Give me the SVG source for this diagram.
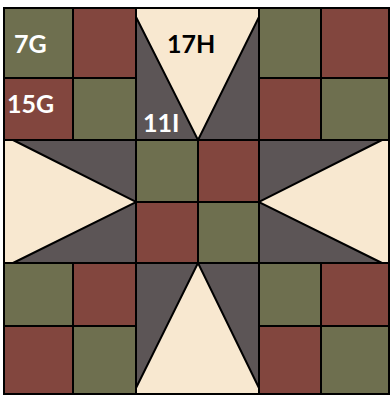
<svg xmlns="http://www.w3.org/2000/svg" width="390" height="396" viewBox="0 0 390 396">
<style>
.g{fill:#6e6f4f}
.r{fill:#82463e}
.c{fill:#f8e8d0}
.k{fill:#5c5556}
.s{stroke:#000;stroke-width:2;stroke-linejoin:miter}
.lw{font-family:Lato,"DejaVu Sans",sans-serif;font-weight:bold;font-size:25px;fill:#fff}
.lb{font-family:Lato,"DejaVu Sans",sans-serif;font-weight:bold;font-size:25px;fill:#000}
</style>
<rect x="0" y="0" width="390" height="396" fill="#fff"/>
<g id="corner-tl">
<rect class="g s" x="4" y="8" width="69" height="70"/>
<rect class="r s" x="73" y="8" width="63" height="70"/>
<rect class="r s" x="4" y="78" width="69" height="62"/>
<rect class="g s" x="73" y="78" width="63" height="62"/>
</g>
<g id="corner-tr">
<rect class="g s" x="259" y="8" width="62" height="70"/>
<rect class="r s" x="321" y="8" width="68" height="70"/>
<rect class="r s" x="259" y="78" width="62" height="62"/>
<rect class="g s" x="321" y="78" width="68" height="62"/>
</g>
<g id="corner-bl">
<rect class="g s" x="4" y="263" width="69" height="63"/>
<rect class="r s" x="73" y="263" width="63" height="63"/>
<rect class="r s" x="4" y="326" width="69" height="68"/>
<rect class="g s" x="73" y="326" width="63" height="68"/>
</g>
<g id="corner-br">
<rect class="g s" x="259" y="263" width="62" height="63"/>
<rect class="r s" x="321" y="263" width="68" height="63"/>
<rect class="r s" x="259" y="326" width="62" height="68"/>
<rect class="g s" x="321" y="326" width="68" height="68"/>
</g>
<g id="center">
<rect class="g s" x="136" y="140" width="62" height="62"/>
<rect class="r s" x="198" y="140" width="61" height="62"/>
<rect class="r s" x="136" y="202" width="62" height="61"/>
<rect class="g s" x="198" y="202" width="61" height="61"/>
</g>
<g id="star-top">
<rect class="c s" x="136" y="8" width="123" height="132"/>
<polygon class="k s" points="136,17 136,140 198,140"/>
<polygon class="k s" points="259,17 259,140 198,140"/>
</g>
<g id="star-left">
<rect class="c s" x="4" y="140" width="132" height="123"/>
<polygon class="k s" points="13,140 136,140 136,202"/>
<polygon class="k s" points="13,263 136,263 136,202"/>
</g>
<g id="star-right">
<rect class="c s" x="259" y="140" width="130" height="123"/>
<polygon class="k s" points="382,140 259,140 259,202"/>
<polygon class="k s" points="382,263 259,263 259,202"/>
</g>
<g id="star-bottom">
<rect class="c s" x="136" y="263" width="123" height="131"/>
<polygon class="k s" points="136,388 136,263 198,263"/>
<polygon class="k s" points="259,388 259,263 198,263"/>
</g>
<rect x="4" y="8" width="385" height="386" fill="none" stroke="#000" stroke-width="2"/>
<g id="labels">
<text class="lw" x="14" y="53">7G</text>
<text class="lw" x="7" y="113">15G</text>
<text class="lw" x="143" y="132">11I</text>
<text class="lb" x="167" y="53">17H</text>
</g>
</svg>
